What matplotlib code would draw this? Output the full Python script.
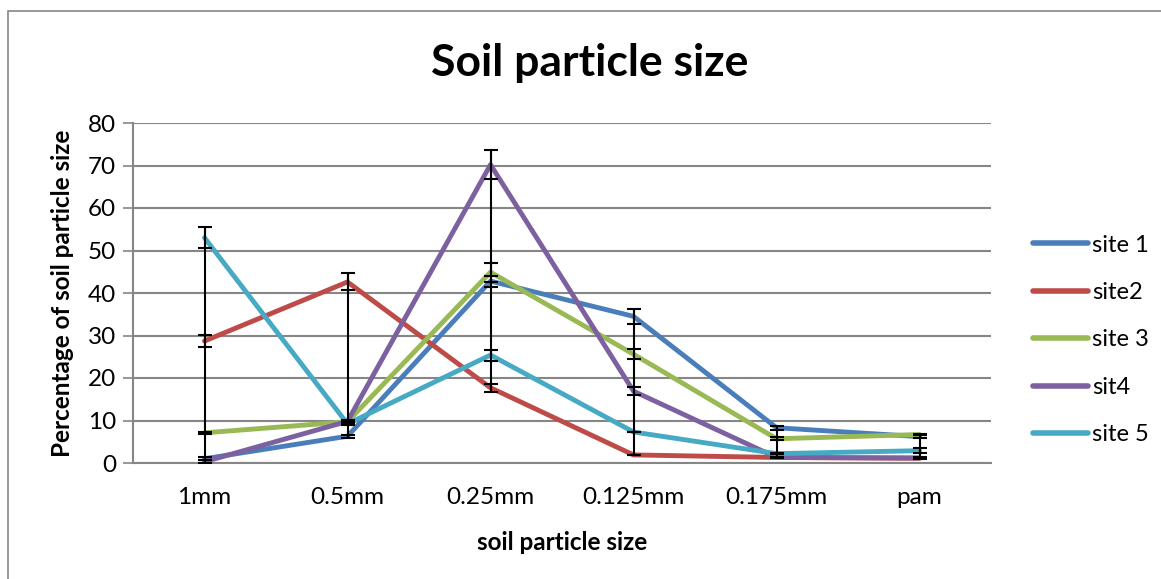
import numpy as np
import matplotlib
matplotlib.use('Agg')
from matplotlib import pyplot as pl
from matplotlib.patches import Rectangle

pl.rcParams['font.family'] = ['Lato', 'DejaVu Sans']

categories = ['1mm', '0.5mm', '0.25mm', '0.125mm', '0.175mm', 'pam']
labels = ['site 1', 'site2', 'site 3', 'sit4', 'site 5']
colors = ['#4a7ebb', '#be4b48', '#98b954', '#7d60a0', '#46aac5']

site1 = [1.0, 6.3, 42.8, 34.5, 8.3, 6.2]
site2 = [28.7, 42.6, 17.7, 1.9, 1.3, 1.1]
site3 = [7.1, 9.7, 44.9, 25.6, 5.7, 6.7]
site4 = [0.3, 9.8, 70.2, 16.9, 1.3, 1.2]
site5 = [53.0, 9.2, 25.4, 7.3, 2.2, 2.9]

err1 = [0.4, 0.3, 1.3, 1.7, 0.5, 0.3]
err2 = [1.5, 2.0, 0.9, 0.1, 0.1, 0.1]
err3 = [0.2, 0.3, 2.2, 1.2, 0.4, 0.2]
err4 = [0.4, 0.3, 3.4, 0.9, 0.1, 0.1]
err5 = [2.5, 0.3, 1.3, 0.1, 0.1, 0.6]

series = [site1, site2, site3, site4, site5]
errors = [err1, err2, err3, err4, err5]

fig = pl.figure(figsize=(11.61, 5.79), dpi=100)
ax = fig.add_axes([133/1161, 1 - 463/579, (991 - 133)/1161, (463 - 123)/579])

# outer chart border (only left and top are inside the picture)
fig.patches.append(Rectangle((8/1161, -0.1), 1.2, 1 - 11/579 + 0.1,
                             transform=fig.transFigure, fill=False,
                             edgecolor='#868686', linewidth=1.2))

x = np.arange(len(categories))
for y, c, lab in zip(series, colors, labels):
    ax.plot(x, y, color=c, linewidth=3.5, label=lab, zorder=3,
            solid_capstyle='round', solid_joinstyle='round')

# error bars, each category joined from lowest to highest end
vals = np.array(series)
errs = np.array(errors)
lows = (vals - errs).min(axis=0)
highs = (vals + errs).max(axis=0)
ax.vlines(x, lows, highs, color='black', linewidth=1.5, zorder=4)
for y, e in zip(series, errors):
    ax.errorbar(x, y, yerr=e, fmt='none', ecolor='black', elinewidth=1.5,
                capsize=5, capthick=1.5, zorder=4)

ax.set_xlim(-0.5, len(categories) - 0.5)
ax.set_ylim(0, 80)
ax.set_yticks(range(0, 81, 10))
ax.set_xticks(x)
ax.set_xticklabels(categories)
ax.tick_params(axis='y', length=7, width=1.2, color='#868686',
               labelsize=17.5, pad=5)
ax.tick_params(axis='x', length=0, labelsize=17.5, pad=17)

ax.grid(axis='y', color='#868686', linewidth=1.5)
ax.set_axisbelow(True)
for s in ['top', 'right']:
    ax.spines[s].set_visible(False)
for s in ['left', 'bottom']:
    ax.spines[s].set_color('#868686')
    ax.spines[s].set_linewidth(1.5)

ax.set_ylabel('Percentage of soil particle size', fontsize=17.5, fontweight='bold',
              labelpad=10)
ax.set_xlabel('soil particle size', fontsize=17.5, fontweight='bold', labelpad=17)
fig.text(590/1161, 1 - 63/579, 'Soil particle size', fontsize=32,
         fontweight='bold', ha='center', va='center')

leg = ax.legend(loc='center left', bbox_to_anchor=(1024/1161, 1 - 340/579),
                bbox_transform=fig.transFigure, frameon=False, fontsize=17,
                handlelength=2.3, handletextpad=0.2, labelspacing=1.12,
                borderaxespad=0)
for h in leg.get_lines():
    h.set_linewidth(4)
    h.set_solid_capstyle('round')

pl.savefig('out.png', dpi=100)
